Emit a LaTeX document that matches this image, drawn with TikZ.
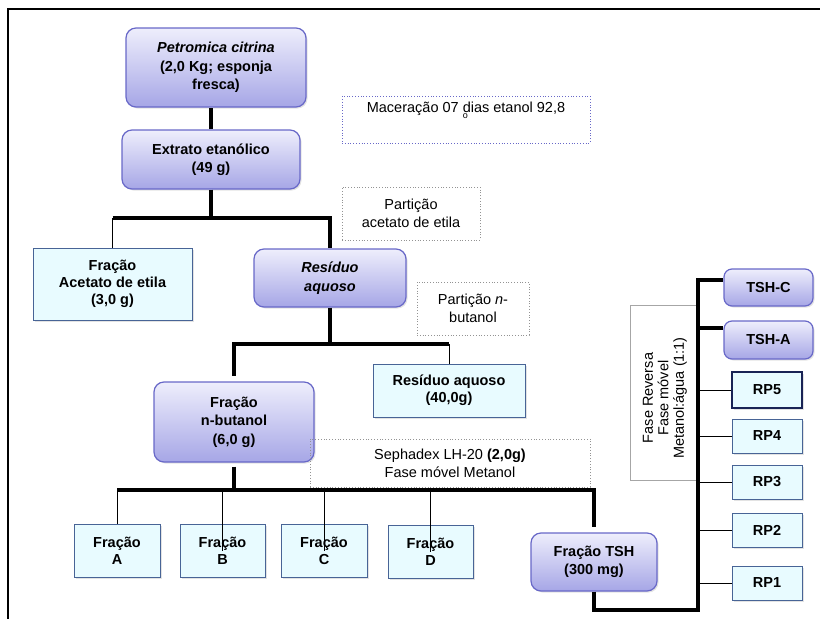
\documentclass[tikz,border=0pt]{standalone}
\usepackage{fontspec}
\setmainfont{Liberation Sans}
\usetikzlibrary{calc}
\usetikzlibrary{shadows}

\definecolor{lilacTop}{RGB}{238,238,252}
\definecolor{lilacBot}{RGB}{166,166,230}
\definecolor{lilacEdge}{RGB}{104,104,200}
\definecolor{paleCyan}{RGB}{232,251,255}
\definecolor{steelEdge}{RGB}{72,100,150}
\definecolor{navyEdge}{RGB}{25,35,85}

\tikzset{
	stage/.style={draw=lilacEdge, line width=1.2pt, rounded corners=10pt, top color=lilacTop, bottom color=lilacBot,
		align=center, inner sep=0pt, font=\bfseries\fontsize{14.5}{18.5}\selectfont,
		drop shadow={opacity=0.22, shadow xshift=1.5pt, shadow yshift=-1.5pt}},
	fraction/.style={draw=steelEdge, line width=1pt, fill=paleCyan,
		align=center, inner sep=0pt, font=\bfseries\fontsize{14.5}{17}\selectfont,
		drop shadow={opacity=0.22, shadow xshift=1.5pt, shadow yshift=-1.5pt}},
	remark/.style={draw=gray!85, dotted, line width=0.8pt, align=center, inner sep=0pt, font=\fontsize{14.5}{18}\selectfont},
	trunk/.style={line width=4.5pt},
	twig/.style={line width=0.9pt},
}

\begin{document}
\begin{tikzpicture}[x=1pt, y=-1pt]
	\useasboundingbox (0,0) rectangle (820,619);
	\draw[line width=2.2pt] (8,619) -- (8,9) -- (820,9);

	\node[stage, minimum width=180pt, minimum height=79pt] (petro) at (216,67.5) {\textit{Petromica citrina}\\(2,0 Kg; esponja\\fresca)};
	\node[stage, minimum width=178pt, minimum height=59pt] (extr) at (211,159.5) {Extrato etanólico\\(49 g)};
	\node[fraction, minimum width=159pt, minimum height=72pt] (acet) at (112.5,284) {Fração\\Acetato de etila\\(3,0 g)};
	\node[stage, minimum width=152pt, minimum height=58pt] (resid) at (330,278) {\textit{Resíduo}\\\textit{aquoso}};
	\node[stage, minimum width=160pt, minimum height=80pt] (nbut) at (234,422) {Fração\\n-butanol\\(6,0 g)};
	\node[fraction, minimum width=152pt, minimum height=53pt] (res40) at (449,390.5) {Resíduo aquoso\\(40,0g)};

	\node[remark, draw=lilacEdge, minimum width=248pt, minimum height=47pt] (macer) at (466,119.5)
		{Maceração 07 \rlap{\raisebox{-6pt}{\fontsize{9}{9}\selectfont o}}dias etanol 92,8\\\strut};
	\node[remark, minimum width=138pt, minimum height=53pt] (partA) at (411,213.5) {Partição\\acetato de etila};
	\node[remark, minimum width=112pt, minimum height=53pt] (partB) at (473,308.5) {Partição \textit{n}-\\butanol};
	\node[remark, minimum width=280pt, minimum height=48pt] (seph) at (450,463) {Sephadex LH-20 \textbf{(2,0g)}\\Fase móvel Metanol};

	\node[fraction, minimum width=86pt, minimum height=53pt] (fracA) at (117,550.5) {Fração\\A};
	\node[fraction, minimum width=85pt, minimum height=53pt] (fracB) at (222.5,550.5) {Fração\\B};
	\node[fraction, minimum width=86pt, minimum height=53pt] (fracC) at (324,550.5) {Fração\\C};
	\node[fraction, minimum width=85pt, minimum height=53pt] (fracD) at (430.5,551.5) {Fração\\D};
	\node[stage, minimum width=126pt, minimum height=58pt] (tsh) at (594,562) {Fração TSH\\(300 mg)};

	\node[remark, solid, draw=gray!70, line width=0.6pt, rotate=90, minimum width=175pt, minimum height=67pt] (revph) at (663.5,392.5) {};
	\node[rotate=90, align=center, inner sep=0pt, font=\fontsize{14.5}{15.5}\selectfont] (revtxt) at (665,398)
		{Fase Reversa\\Fase móvel\\Metanol:água (1:1)};

	\node[stage, rounded corners=8pt, minimum width=89pt, minimum height=37pt] (tshc) at (768.5,287.5) {TSH-C};
	\node[stage, rounded corners=8pt, minimum width=89pt, minimum height=38pt] (tsha) at (768.5,340) {TSH-A};
	\node[fraction, draw=navyEdge, line width=1.8pt, minimum width=70pt, minimum height=36pt] (rp5) at (767,390) {RP5};
	\node[fraction, minimum width=70pt, minimum height=34pt] (rp4) at (767,436) {RP4};
	\node[fraction, minimum width=70pt, minimum height=34pt] (rp3) at (767,482) {RP3};
	\node[fraction, minimum width=70pt, minimum height=34pt] (rp2) at (767,530) {RP2};
	\node[fraction, minimum width=70pt, minimum height=34pt] (rp1) at (767,583) {RP1};

	\coordinate (b1) at (211,218);
	\coordinate (b2) at (330,344);
	\coordinate (b3) at (234,490);
	\coordinate (sp) at (698,610);

	\draw[trunk] (extr.north) -- (extr.north |- petro.south);
	\draw[trunk] (extr.south) -- (b1);
	\draw[trunk] (acet.north |- b1) -- (resid.north |- b1) -- (resid.north);
	\draw[twig] (acet.north |- b1) -- (acet.north);

	\draw[trunk] (resid.south) -- (b2);
	\draw[trunk] (res40.north |- b2) -- (nbut.north |- b2) -- ($(nbut.north)+(0,-5)$);
	\draw[twig] (res40.north |- b2) -- (res40.north);

	\draw[trunk] ($(nbut.south)+(0,4)$) -- (b3);
	\draw[trunk] (fracA.north |- b3) -- (tsh.north |- b3) -- ($(tsh.north)+(0,-5)$);
	\draw[twig] (fracA.north |- b3) -- (fracA.north);
	\foreach \f in {fracB,fracC,fracD}
		\draw[twig] (\f.north |- b3) -- (\f.center);

	\draw[trunk] (tsh.south) -- (tsh.south |- sp) -- (sp) -- (sp |- {$(tshc.west)+(0,-7.5)$}) -- ($(tshc.west)+(0,-7.5)$);
	\draw[trunk] (sp |- {$(tsha.west)+(0,-12)$}) -- ($(tsha.west)+(0,-12)$);
	\foreach \r in {rp5,rp4,rp3,rp2,rp1}
		\draw[twig] (sp |- \r.west) -- (\r.west);

\end{tikzpicture}
\end{document}
